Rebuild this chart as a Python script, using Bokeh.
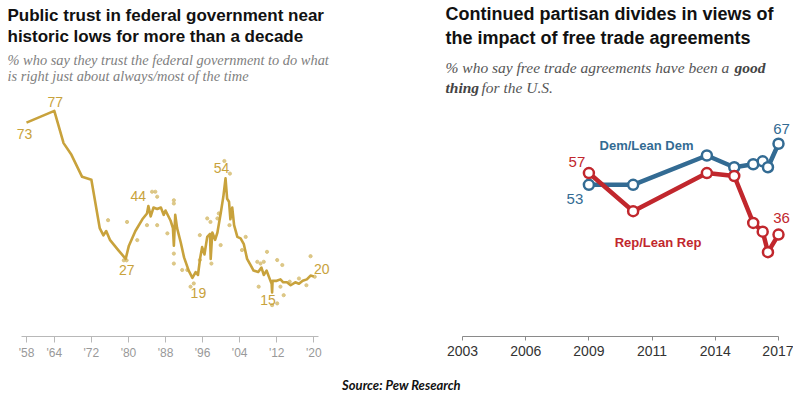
import numpy as np
from bokeh.plotting import figure
from bokeh.models import Range1d, LinearAxis, FixedTicker, ColumnDataSource
from bokeh.layouts import column, row
from bokeh.core.properties import value
from bokeh.embed import file_html
from bokeh.resources import INLINE

# ---------------- data: public trust in federal government ----------------
trust_years = [1958, 1964, 1966, 1967.7, 1970, 1972, 1973.8, 1974.6, 1975.2, 1976,
               1977.8, 1979.4, 1980.1, 1981.5, 1983, 1984, 1984.3, 1984.8, 1985.4,
               1986.2, 1987, 1987.6, 1988, 1989.1, 1989.6, 1989.8, 1990.1, 1990.5,
               1991.3, 1992, 1993, 1993.8, 1994.5, 1995, 1995.5, 1995.9, 1996.4,
               1997, 1997.6, 1997.75, 1998.1, 1998.7, 1999.2, 1999.9, 2000.5,
               2000.95, 2001.3, 2001.7, 2002, 2002.4, 2002.8, 2003.5, 2004.2,
               2004.9, 2005.6, 2006.3, 2007, 2008, 2008.7, 2009.2, 2009.8, 2010.4,
               2010.9, 2011.0, 2011.1, 2012, 2012.8, 2013.4, 2014.2, 2015, 2016,
               2016.8, 2017.6, 2018.5, 2019.3, 2020]
trust_values = [73, 77, 66, 62, 54.5, 53.5, 37, 34.5, 36, 33,
                29.5, 26.5, 31, 36, 40, 42, 44.5, 41, 44,
                43.5, 44, 41.5, 43, 39.5, 37, 31, 41.5, 37,
                32, 27, 22.5, 20, 22, 21, 27, 30.5, 28,
                34, 35, 26.5, 35.5, 33, 35.5, 42, 48,
                54, 47, 46, 40, 44, 38, 34, 33.5,
                31.5, 26.5, 24.5, 22.5, 22, 23.5, 21, 22.5, 20,
                18, 15, 19, 19, 19.5, 18.5, 18.5, 17.5, 18.5,
                18, 19, 19.5, 20.8, 20.5]
poll_years = [1975.6, 1979.7, 1981.9, 1985.1, 1985.8, 1986.2, 1984.0, 1986.2,
              1989.8, 1989.8, 1989.8, 1989.8, 1988.4, 1991.6, 1992.7, 1994.1,
              1993.4, 1995.4, 1995.4, 1997.0, 1997.7, 1997.9, 1999.2, 1999.5,
              1999.9, 2000.7, 2001.9, 2001.8, 2005.3, 2004.5, 2007.8, 2008.5,
              2009.9, 2009.2, 2008.1, 2012.1, 2013.2, 2012.8, 2013.5, 2011.0,
              2012.1, 2014.8, 2016.8, 2018.4, 2019.3, 2020.2, 1979.0, 1979.6]
poll_values = [39.7, 39.1, 32.9, 49.4, 49.4, 47.7, 38, 38,
               46.5, 45.4, 28.3, 24.9, 35.2, 22.7, 22.7, 18.1,
               17, 34.6, 26.1, 40.3, 39.1, 24.9, 40.3, 42,
               31.2, 59.9, 55.6, 38, 34, 29.5, 25.5, 24.9,
               28.9, 25.5, 17, 26.1, 24.4, 17, 14.1, 10.7,
               11.3, 18.7, 19.8, 17.5, 27.4, 20.4, 26, 26]
trust_label_years = [1958, 1964, 1979.4, 1984.3, 1993.8, 2000.95, 2011.0, 2020]
trust_label_values = [73, 77, 27, 44, 19, 54, 15, 20]
trust_ticks = [1958, 1964, 1972, 1980, 1988, 1996, 2004, 2012, 2020]
trust_tick_labels = ["'58", "'64", "'72", "'80", "'88", "'96", "'04", "'12", "'20"]

# ---------------- data: views of free trade agreements ----------------
trade_tick_years = [2003, 2006, 2009, 2011, 2014, 2017]
survey_dates = [2009.0, 2010.4, 2013.6, 2014.9, 2015.8, 2016.25, 2016.5, 2017.05]
dem_values = [53, 53, 63, 59, 60, 61, 59, 67]
rep_values = [57, 44, 57, 56, 40, 37, 30, 36]
dem_label_index = [0, 7]
rep_label_index = [0, 7]

GOLD = "#c8a23c"
GOLD_LIGHT = "#d9c27c"
BLUE = "#336b93"
RED = "#c1272d"
SANS = "Liberation Sans"
SERIF = "Liberation Serif"

# ---------------- layout geometry (page origin = figure origin) ----------------
FRAME_H = 336
FIG_H = 368
LW, RW = 403, 390

# ---------------- left chart ----------------
L_YR = 4.634   # px per year
L_PT = 2.93    # px per percentage point
lx0 = 1958 - 26 / L_YR


def lx(px):
    return lx0 + px / L_YR


def ly(py):
    return (FRAME_H - py) / L_PT


left = figure(width=LW, height=FIG_H, x_range=Range1d(lx0, lx0 + LW / L_YR),
              y_range=Range1d(0, FRAME_H / L_PT), x_axis_type=None, y_axis_type=None,
              output_backend="svg", toolbar_location=None,
              min_border_left=0, min_border_right=0, min_border_top=0,
              min_border_bottom=FIG_H - FRAME_H, outline_line_color=None)

left.scatter(poll_years, poll_values, size=3.2, color=GOLD_LIGHT, alpha=0.9)
left.line(trust_years, trust_values, line_width=2.6, color=GOLD, line_join="round")

lab_src = ColumnDataSource(dict(x=trust_label_years, y=trust_label_values,
                                t=[str(v) for v in trust_label_values],
                                dx=[-2, 1, 1, -10, 6, -4, -4, 8],
                                dy=[11, -9, 13, -12, 12, -10, 7, -9]))
left.text(x="x", y="y", text="t", x_offset="dx", y_offset="dy", source=lab_src,
          text_align="center", text_baseline="middle", text_color=GOLD,
          text_font=value(SANS), text_font_size="14px")

lax = LinearAxis(ticker=FixedTicker(ticks=trust_ticks),
                 major_label_overrides=dict(zip(trust_ticks, trust_tick_labels)),
                 bounds=(1957, 2021))
lax.axis_line_color = "#b8b8b8"
lax.major_tick_line_color = "#b8b8b8"
lax.major_tick_in = 0
lax.major_tick_out = 6
lax.minor_tick_line_color = None
lax.major_label_text_font = SANS
lax.major_label_text_font_size = "12px"
lax.major_label_text_color = "#999999"
lax.major_label_standoff = 3
left.add_layout(lax, "below")

left.text(x=[lx(7), lx(7)], y=[ly(15), ly(36)],
          text=["Public trust in federal government near",
                "historic lows for more than a decade"],
          text_font=value(SANS), text_font_style="bold", text_font_size="17px",
          text_color="#111111", text_baseline="middle", text_align="left")
left.text(x=[lx(7), lx(7)], y=[ly(59), ly(75)],
          text=["% who say they trust the federal government to do what",
                "is right just about always/most of the time"],
          text_font=value(SERIF), text_font_style="italic", text_font_size="14.4px",
          text_color="#808080", text_baseline="middle", text_align="left")

# ---------------- right chart ----------------
R_TICK = 63.2   # px between ticks
R_PT = 2.93
rx0 = (403 - 462) / R_TICK


def rx(px):
    return rx0 + (px - 403) / R_TICK


def ry(py):
    return 53 + (184.3 - py) / R_PT


tick_pos = list(range(len(trade_tick_years)))
survey_pos = np.interp(survey_dates, trade_tick_years, tick_pos)

right = figure(width=RW, height=FIG_H, x_range=Range1d(rx(403), rx(403 + RW)),
               y_range=Range1d(ry(FRAME_H), ry(0)), x_axis_type=None, y_axis_type=None,
               output_backend="svg", toolbar_location=None,
               min_border_left=0, min_border_right=0, min_border_top=0,
               min_border_bottom=FIG_H - FRAME_H, outline_line_color=None)

for vals, col in ((dem_values, BLUE), (rep_values, RED)):
    right.line(survey_pos, vals, line_width=4.5, color=col, line_join="round")
for vals, col in ((dem_values, BLUE), (rep_values, RED)):
    right.scatter(survey_pos, vals, size=10, fill_color="white", line_color=col,
                  line_width=2.5)

dem_src = ColumnDataSource(dict(x=[survey_pos[i] for i in dem_label_index],
                                y=[dem_values[i] for i in dem_label_index],
                                t=[str(dem_values[i]) for i in dem_label_index],
                                dx=[-14, 3], dy=[14, -15]))
rep_src = ColumnDataSource(dict(x=[survey_pos[i] for i in rep_label_index],
                                y=[rep_values[i] for i in rep_label_index],
                                t=[str(rep_values[i]) for i in rep_label_index],
                                dx=[-12, 3], dy=[-11, -17]))
for src, col in ((dem_src, BLUE), (rep_src, RED)):
    right.text(x="x", y="y", text="t", x_offset="dx", y_offset="dy", source=src,
               text_align="center", text_baseline="middle", text_color=col,
               text_font=value(SANS), text_font_size="15px")

right.text(x=[rx(646)], y=[ry(145)], text=["Dem/Lean Dem"], text_color=BLUE,
           text_font=value(SANS), text_font_style="bold", text_font_size="13px",
           text_align="center", text_baseline="middle")
right.text(x=[rx(657.5)], y=[ry(242)], text=["Rep/Lean Rep"], text_color=RED,
           text_font=value(SANS), text_font_style="bold", text_font_size="13px",
           text_align="center", text_baseline="middle")

rax = LinearAxis(ticker=FixedTicker(ticks=tick_pos),
                 major_label_overrides={i: str(y) for i, y in zip(tick_pos, trade_tick_years)},
                 bounds=(0, len(tick_pos) - 1))
rax.axis_line_color = "#8a8a8a"
rax.major_tick_line_color = "#8a8a8a"
rax.major_tick_in = 0
rax.major_tick_out = 4
rax.minor_tick_line_color = None
rax.major_label_text_font = SANS
rax.major_label_text_font_size = "14px"
rax.major_label_text_color = "#333333"
rax.major_label_standoff = 5
right.add_layout(rax, "below")

right.text(x=[rx(445), rx(445)], y=[ry(13), ry(37)],
           text=["Continued partisan divides in views of",
                 "the impact of free trade agreements"],
           text_font=value(SANS), text_font_style="bold", text_font_size="18px",
           text_color="#111111", text_baseline="middle", text_align="left")
right.text(x=[rx(445), rx(481)], y=[ry(67), ry(87)],
           text=["% who say free trade agreements have been a", " for the U.S."],
           text_font=value(SERIF), text_font_style="italic", text_font_size="15.5px",
           text_color="#555555", text_baseline="middle", text_align="left")
right.text(x=[rx(734), rx(445)], y=[ry(67), ry(87)],
           text=["good", "thing"],
           text_font=value(SERIF), text_font_style="bold italic", text_font_size="15.5px",
           text_color="#444444", text_baseline="middle", text_align="left")

# ---------------- source line ----------------
SRC_H = 23
src_fig = figure(width=LW + RW, height=SRC_H, x_range=Range1d(0, LW + RW),
                 y_range=Range1d(0, SRC_H), x_axis_type=None, y_axis_type=None,
                 output_backend="svg", toolbar_location=None,
                 min_border_left=0, min_border_right=0, min_border_top=0,
                 min_border_bottom=0, outline_line_color=None)
src_fig.text(x=[401], y=[SRC_H - (384 - FIG_H)], text=["Source: Pew Research"],
             text_font=value("Lato"), text_font_style="bold italic",
             text_font_size="13px", text_color="#111111",
             text_align="center", text_baseline="middle")

for f in (left, right, src_fig):
    f.grid.visible = False
    f.background_fill_color = "white"
    f.border_fill_color = "white"

layout = column(row(left, right, spacing=0), src_fig, spacing=0)
open("out.html", "w").write(file_html(layout, INLINE))
